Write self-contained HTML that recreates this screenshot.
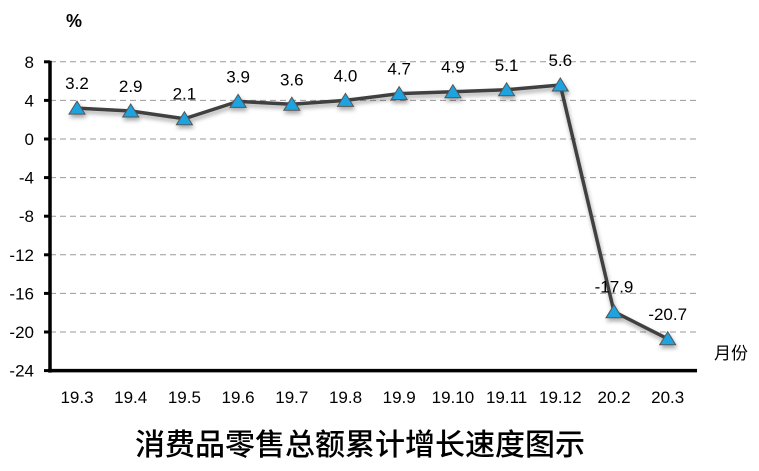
<!DOCTYPE html>
<html><head><meta charset="utf-8"><style>
body{margin:0;background:#fff;width:759px;height:466px;overflow:hidden}
svg text{font-family:"Liberation Sans","Noto Sans CJK SC",sans-serif}
</style></head><body>
<svg id="c" width="759" height="466">
<defs><filter id="sh" x="-20%" y="-20%" width="140%" height="160%"><feDropShadow dx="1" dy="3" stdDeviation="2" flood-color="#000" flood-opacity="0.35"/></filter></defs>
<g id="grid"></g><g id="axes"></g><g id="series" filter="url(#sh)"></g><g id="labels"></g>
<text x="66" y="27" font-size="18" font-weight="bold">%</text>
<text x="714" y="359" font-size="17">月份</text>
<text x="360" y="455" font-size="30" text-anchor="middle" font-weight="500">消费品零售总额累计增长速度图示</text>
</svg>
<script>
const categories=["19.3","19.4","19.5","19.6","19.7","19.8","19.9","19.10","19.11","19.12","20.2","20.3"];
const values=[3.2,2.9,2.1,3.9,3.6,4.0,4.7,4.9,5.1,5.6,-17.9,-20.7];
const valueLabels=["3.2","2.9","2.1","3.9","3.6","4.0","4.7","4.9","5.1","5.6","-17.9","-20.7"];
const yTicks=[8,4,0,-4,-8,-12,-16,-20,-24];
const NS="http://www.w3.org/2000/svg";
const y=v=>139-v*9.65;
const x=i=>77+i*53.7;
function mk(p,t,a){const e=document.createElementNS(NS,t);for(const k in a)e.setAttribute(k,a[k]);document.getElementById(p).appendChild(e);return e;}
yTicks.forEach(t=>{
 if(t>-24){const g=mk('grid','line',{x1:50,x2:697,y1:y(t),y2:y(t),stroke:'#999','stroke-dasharray':'6,4','stroke-width':1});
 
 }
 const tk=mk('axes','line',{x1:44,x2:50,y1:y(t),y2:y(t),stroke:'#000','stroke-width':3});
 
 
 const l=mk('axes','text',{x:34,y:y(t)+6,'font-size':17,'text-anchor':'end'});l.textContent=t;
 
 
});
const ya=mk('axes','line',{x1:50,x2:50,y1:y(8)-1,y2:y(-24)+2,stroke:'#000','stroke-width':3.5});


const xa=mk('axes','line',{x1:48,x2:697,y1:y(-24),y2:y(-24),stroke:'#000','stroke-width':3.5});


categories.forEach((c,i)=>{
 const l=mk('axes','text',{x:x(i),y:403,'font-size':17,'text-anchor':'middle'});l.textContent=c;
 
 
});
const pl=mk('series','polyline',{points:values.map((v,i)=>x(i)+','+y(v)).join(' '),fill:'none',stroke:'#404040','stroke-width':3.5,'stroke-linejoin':'round'});


values.forEach((v,i)=>{
 const cx=x(i),cy=y(v);
 const m=mk('series','polygon',{points:`${cx},${cy-7} ${cx-8},${cy+6} ${cx+8},${cy+6}`,fill:'#1aa3e0',stroke:'#555','stroke-width':1});
 
 
 const l=mk('labels','text',{x:cx,y:cy-19,'font-size':17,'text-anchor':'middle'});l.textContent=valueLabels[i];
 
 
});
</script>
</body></html>
